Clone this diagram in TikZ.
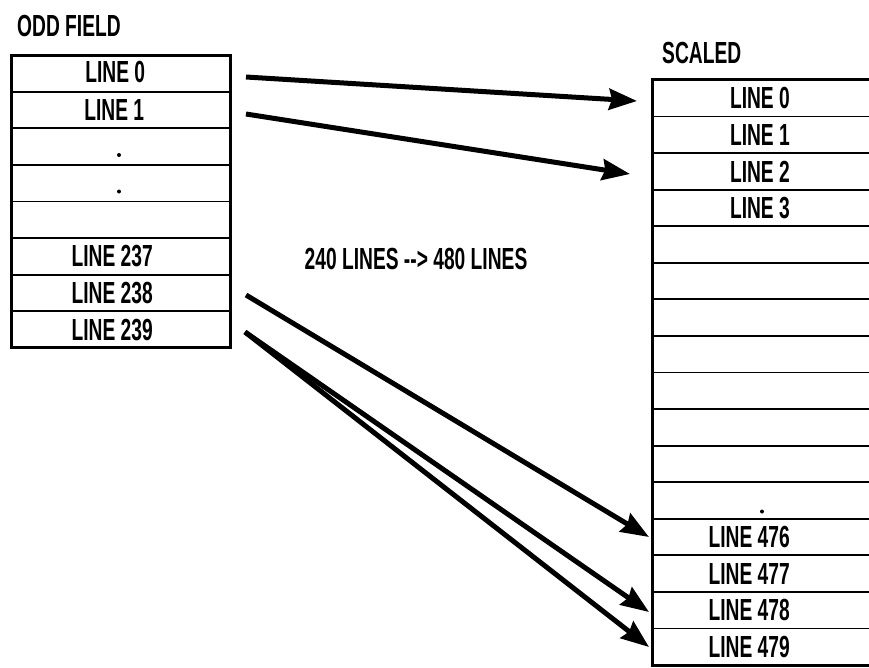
\documentclass[tikz,border=0pt]{standalone}
\usepackage{fontspec}
\setmainfont{Liberation Sans}[FakeStretch=0.63]
\usetikzlibrary{arrows.meta}
\begin{document}
\begin{tikzpicture}[x=1pt,y=-1pt,
  rowbox/.style={draw=black,line width=1.8pt,minimum height=36.6pt,inner sep=0pt,outer sep=0pt},
  lrow/.style={rowbox,minimum width=219pt},
  rrow/.style={rowbox,minimum width=223pt},
  txt/.style={font=\fontsize{30.5}{32}\selectfont\bfseries,inner sep=0pt},
  ltxt/.style={txt,anchor=center},
  rtxt/.style={txt,anchor=east},
  dotmark/.style={circle,fill=black,inner sep=0pt,minimum size=4pt},
  bigarrow/.style={line width=5pt,-{Stealth[length=28pt,width=21pt,inset=3pt]}}]
\useasboundingbox (0,0) rectangle (869,667);
\clip (0,0) rectangle (869,667);
\fill[white] (0,0) rectangle (869,667);
% titles
\node[txt,anchor=west] (oddtitle) at (17,26) {ODD FIELD};
\node[txt,anchor=west] (scaledtitle) at (662,53) {SCALED};
\node[txt] (ratio) at (416,259) {240 LINES -{}-> 480 LINES};
% left box rows
\foreach \i in {0,...,7}
  \node[lrow] (l\i) at (121.2,{55+36.625*(\i+0.5)}) {};
\draw[line width=3pt] (l0.north west) rectangle (l7.south east);
\node[ltxt] (t0) at ([xshift=-6pt,yshift=1pt]l0.center) {LINE 0};
\node[ltxt] (t1) at ([xshift=-7pt]l1.center) {LINE 1};
\node[dotmark] (d1) at (119,155) {};
\node[dotmark] (d2) at (119,191.5) {};
\node[ltxt] (t237) at ([xshift=-9pt]l5.center) {LINE 237};
\node[ltxt] (t238) at ([xshift=-9pt]l6.center) {LINE 238};
\node[ltxt] (t239) at ([xshift=-9pt]l7.center) {LINE 239};
% right box rows
\foreach \i in {0,...,15}
  \node[rrow] (r\i) at (763.5,{80+36.5625*(\i+0.5)}) {};
\draw[line width=3pt] (r0.north west) rectangle (r15.south east);
\node[rtxt] (u0) at ([xshift=26.5pt]r0.center) {LINE 0};
\node[rtxt] (u1) at ([xshift=26.5pt]r1.center) {LINE 1};
\node[rtxt] (u2) at ([xshift=26.5pt]r2.center) {LINE 2};
\node[rtxt] (u3) at ([xshift=26.5pt]r3.center) {LINE 3};
\node[dotmark] (d3) at (762,511.5) {};
\node[rtxt] (u476) at ([xshift=26.5pt]r12.center) {LINE 476};
\node[rtxt] (u477) at ([xshift=26.5pt]r13.center) {LINE 477};
\node[rtxt] (u478) at ([xshift=26.5pt]r14.center) {LINE 478};
\node[rtxt] (u479) at ([xshift=26.5pt]r15.center) {LINE 479};
% arrow end points
\coordinate (s0) at (246,77);
\coordinate (s1) at (246,114);
\coordinate (s238) at (246,295);
\coordinate (s239) at (245,332);
\coordinate (e0) at (637,101);
\coordinate (e2) at (630,174);
\coordinate (e476) at (649,537);
\coordinate (e478) at (649,612);
\coordinate (e479) at (649,647);
\draw[bigarrow] (s0) -- (e0);
\draw[bigarrow] (s1) -- (e2);
\draw[bigarrow] (s238) -- (e476);
\draw[bigarrow] (s239) -- (e478);
\draw[bigarrow] (s239) -- (e479);
\end{tikzpicture}
\end{document}
